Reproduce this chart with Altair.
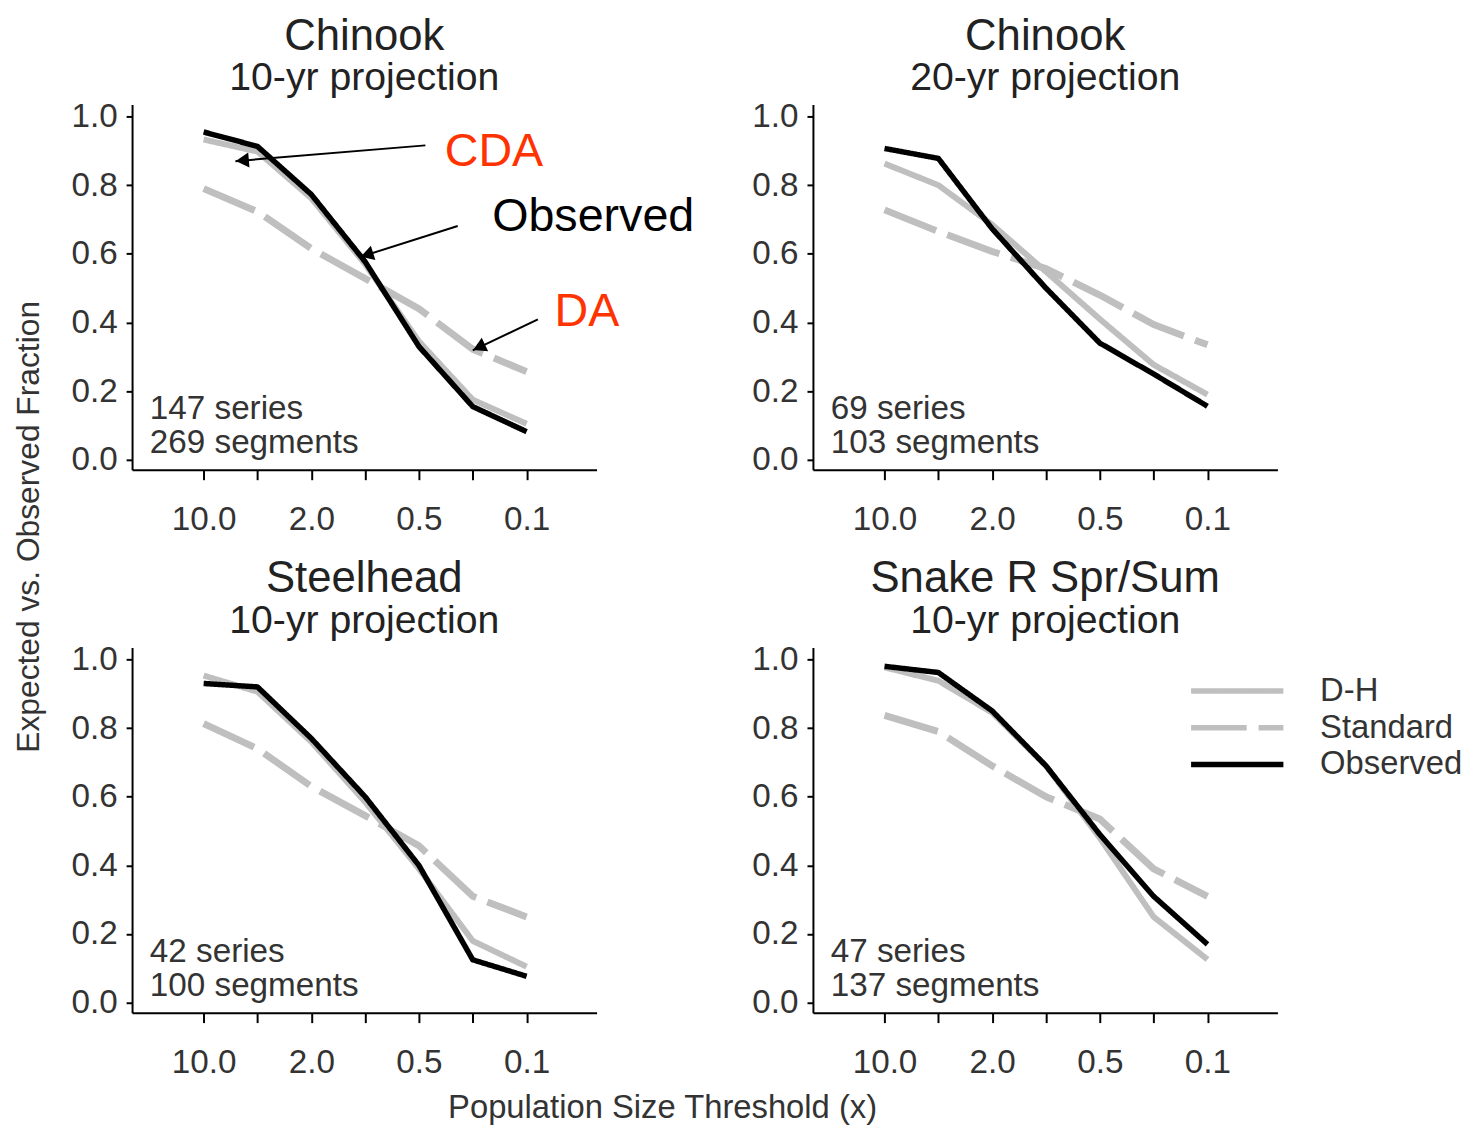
import math
import altair as alt
import pandas as pd

# ---------------- data ----------------
thresholds = ["10.0", "5.0", "2.0", "1.0", "0.5", "0.2", "0.1"]
shown_labels = ["10.0", "2.0", "0.5", "0.1"]
series_names = ["D-H", "Standard", "Observed"]

species = ["Chinook", "Chinook", "Steelhead", "Snake R Spr/Sum"]
horizons = ["10-yr projection", "20-yr projection", "10-yr projection", "10-yr projection"]
n_series = [147, 69, 42, 47]
n_segments = [269, 103, 100, 137]

chinook10_dh = [0.933, 0.898, 0.762, 0.570, 0.345, 0.175, 0.105]
chinook10_std = [0.790, 0.723, 0.615, 0.528, 0.440, 0.322, 0.257]
chinook10_obs = [0.955, 0.913, 0.773, 0.577, 0.330, 0.155, 0.082]

chinook20_dh = [0.863, 0.800, 0.685, 0.548, 0.410, 0.277, 0.190]
chinook20_std = [0.728, 0.665, 0.607, 0.557, 0.480, 0.394, 0.335]
chinook20_obs = [0.907, 0.878, 0.673, 0.500, 0.340, 0.250, 0.156]

steelhead10_dh = [0.953, 0.906, 0.760, 0.585, 0.390, 0.180, 0.105]
steelhead10_std = [0.813, 0.740, 0.630, 0.545, 0.457, 0.310, 0.250]
steelhead10_obs = [0.930, 0.920, 0.770, 0.600, 0.400, 0.125, 0.077]

snake10_dh = [0.977, 0.938, 0.845, 0.690, 0.480, 0.250, 0.126]
snake10_std = [0.837, 0.790, 0.690, 0.600, 0.535, 0.390, 0.310]
snake10_obs = [0.980, 0.962, 0.850, 0.690, 0.490, 0.310, 0.170]

dh_values = [chinook10_dh, chinook20_dh, steelhead10_dh, snake10_dh]
std_values = [chinook10_std, chinook20_std, steelhead10_std, snake10_std]
obs_values = [chinook10_obs, chinook20_obs, steelhead10_obs, snake10_obs]

# call-out annotations on the first panel (data units: threshold index, fraction)
annot_text = ["CDA", "Observed", "DA"]
annot_color = ["#ff3300", "#000000", "#ff3300"]
annot_x = [4.48, 5.36, 6.52]
annot_y = [0.896, 0.707, 0.429]
arrow_x = [4.12, 4.72, 6.21]
arrow_y = [0.916, 0.681, 0.409]
arrow_tip_x = [0.59, 2.91, 5.00]
arrow_tip_y = [0.870, 0.591, 0.319]

# ---------------- styling ----------------
FONT = "Liberation Sans"
W, H = 468, 368
X_DOMAIN = [-1.33, 7.3]
Y_DOMAIN = [-0.029, 1.035]
PX_X = W / (X_DOMAIN[1] - X_DOMAIN[0])
PX_Y = H / (Y_DOMAIN[1] - Y_DOMAIN[0])

label_expr = (
    "datum.value % 2 == 0 ? "
    + "[" + ",".join("'%s'" % t for t in thresholds) + "][datum.value] : ''"
)

legend = alt.Legend(
    title=None,
    orient="none",
    legendX=1064,
    legendY=573,
    symbolType="stroke",
    symbolSize=8649,
    symbolStrokeWidth=5.5,
    labelFontSize=33,
    labelFont=FONT,
    labelColor="#333333",
    labelOffset=34,
    clipHeight=36,
    rowPadding=1,
    padding=0,
)


def panel(i):
    rows = []
    for name, vals in zip(series_names, [dh_values[i], std_values[i], obs_values[i]]):
        for k, v in enumerate(vals):
            rows.append({"idx": k, "threshold": thresholds[k], "frac": v, "series": name})
    df = pd.DataFrame(rows)

    xaxis_kw = dict(
        values=list(range(len(thresholds))),
        labelExpr=label_expr,
        grid=False,
        tickSize=10,
        tickColor="black",
        tickWidth=2,
        domainColor="black",
        domainWidth=2,
        labelFontSize=33.5,
        labelFont=FONT,
        labelColor="#333333",
        labelPadding=24,
        title=None,
    )
    yaxis_kw = dict(
        values=[0, 0.2, 0.4, 0.6, 0.8, 1.0],
        format=".1f",
        grid=False,
        tickSize=6,
        tickColor="black",
        tickWidth=2,
        domainColor="black",
        domainWidth=2,
        labelFontSize=33.5,
        labelFont=FONT,
        labelColor="#333333",
        labelPadding=9,
        title=None,
    )
    if i == 0:
        yaxis_kw.update(
            title="Expected vs. Observed Fraction",
            titleFont=FONT,
            titleFontSize=32,
            titleFontWeight="normal",
            titleColor="#333333",
            titleX=-104,
            titleY=425,
            titleAngle=270,
            titleAlign="center",
            titleBaseline="middle",
        )
    if i == 2:
        xaxis_kw.update(
            title="Population Size Threshold (x)",
            titleFont=FONT,
            titleFontSize=33,
            titleFontWeight="normal",
            titleColor="#333333",
            titleX=534,
            titleY=96,
            titleAlign="center",
            titleBaseline="middle",
        )

    x = alt.X("idx:Q", scale=alt.Scale(domain=X_DOMAIN, nice=False, zero=False), axis=alt.Axis(**xaxis_kw))
    y = alt.Y("frac:Q", scale=alt.Scale(domain=Y_DOMAIN, nice=False, zero=False), axis=alt.Axis(**yaxis_kw))
    color = alt.Color(
        "series:N",
        scale=alt.Scale(domain=series_names, range=["#bfbfbf", "#bfbfbf", "#000000"]),
        legend=legend,
    )
    dash = alt.StrokeDash(
        "series:N",
        scale=alt.Scale(domain=series_names, range=[[1, 0], [56, 12], [1, 0]]),
        legend=legend,
    )

    base = alt.Chart(df).encode(x=x, y=y, color=color, strokeDash=dash)
    widths = {"Standard": 7, "D-H": 6, "Observed": 5.5}
    layers = []
    for name in ["Standard", "D-H", "Observed"]:
        layers.append(
            base.transform_filter(alt.datum.series == name).mark_line(
                strokeWidth=widths[name], strokeCap="butt", strokeJoin="round"
            )
        )

    count_df = pd.DataFrame(
        {
            "idx": [-1.0, -1.0],
            "frac": [0.148, 0.049],
            "label": ["%d series" % n_series[i], "%d segments" % n_segments[i]],
        }
    )
    layers.append(
        alt.Chart(count_df)
        .mark_text(align="left", baseline="middle", fontSize=33.5, font=FONT, color="#333333")
        .encode(x="idx:Q", y="frac:Q", text="label:N")
    )

    if i == 0:
        ann_df = pd.DataFrame(
            {"idx": annot_x, "frac": annot_y, "label": annot_text, "col": annot_color}
        )
        layers.append(
            alt.Chart(ann_df)
            .mark_text(align="left", baseline="middle", fontSize=47, font=FONT)
            .encode(x="idx:Q", y="frac:Q", text="label:N", color=alt.Color("col:N", scale=None, legend=None))
        )
        arr_df = pd.DataFrame(
            {"idx": arrow_x, "frac": arrow_y, "idx2": arrow_tip_x, "frac2": arrow_tip_y}
        )
        layers.append(
            alt.Chart(arr_df)
            .mark_rule(color="black", strokeWidth=2)
            .encode(x="idx:Q", y="frac:Q", x2="idx2:Q", y2="frac2:Q")
        )
        heads = []
        for sx, sy, tx, ty in zip(arrow_x, arrow_y, arrow_tip_x, arrow_tip_y):
            dx = (tx - sx) * PX_X
            dy = -(ty - sy) * PX_Y
            n = math.hypot(dx, dy)
            ang = math.degrees(math.atan2(dx, -dy)) % 360
            back = 7.0
            heads.append(
                {
                    "idx": tx - (dx / n) * back / PX_X,
                    "frac": ty + (dy / n) * back / PX_Y,
                    "ang": ang,
                }
            )
        head_df = pd.DataFrame(heads)
        layers.append(
            alt.Chart(head_df)
            .mark_point(shape="triangle-up", filled=True, color="black", size=230, opacity=1)
            .encode(x="idx:Q", y="frac:Q", angle=alt.Angle("ang:Q", scale=None))
        )

    title = alt.TitleParams(
        text=species[i],
        subtitle=horizons[i],
        fontSize=44,
        subtitleFontSize=39.5,
        font=FONT,
        subtitleFont=FONT,
        fontWeight="normal",
        color="#222222",
        subtitleColor="#222222",
        anchor="middle",
        offset=2,
        subtitlePadding=1,
    )
    return alt.layer(*layers).properties(width=W, height=H, title=title)


panels = [panel(i) for i in range(4)]

chart = (
    alt.concat(*panels, columns=2, spacing={"row": 179, "column": 218})
    .properties(bounds="flush", padding={"top": 2, "left": 5, "right": 5, "bottom": 5})
    .configure(font=FONT, background="white")
    .configure_view(stroke=None)
)

chart.save("out.html", embed_options={"renderer": "svg", "actions": False})
